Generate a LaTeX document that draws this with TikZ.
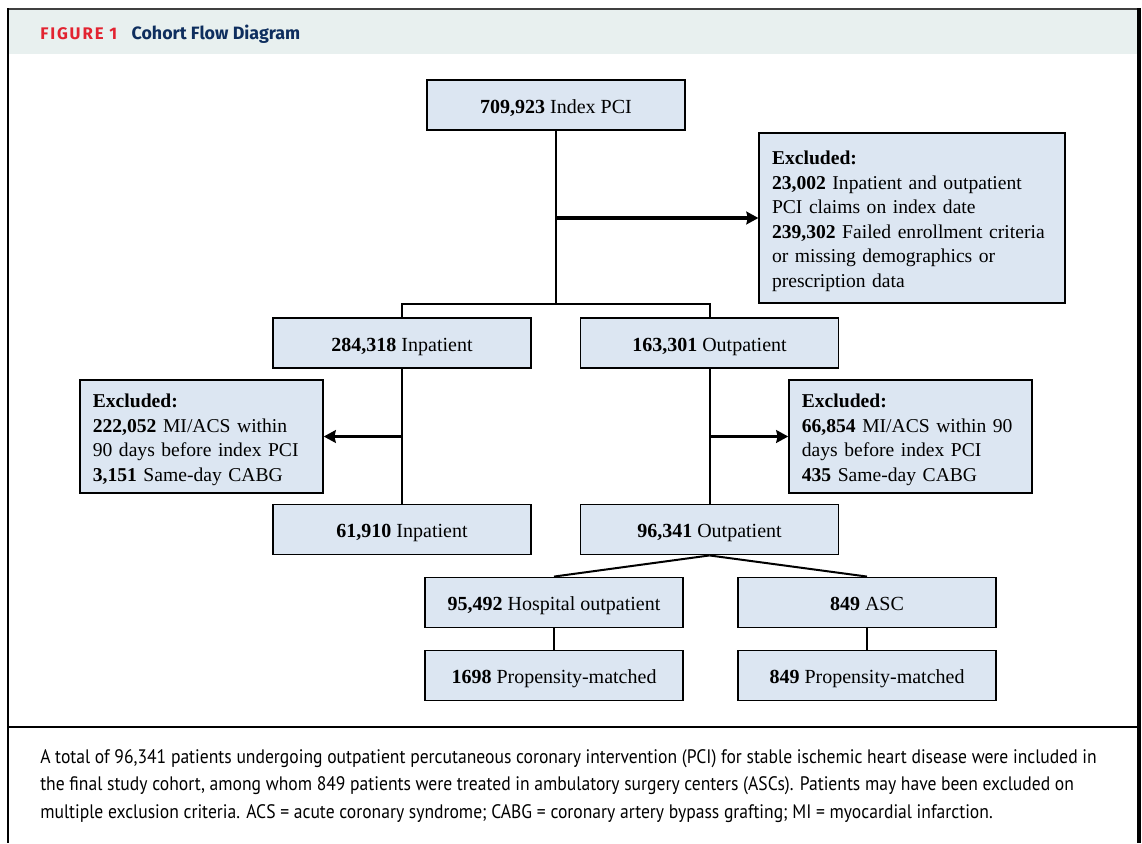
\documentclass[tikz,border=0pt]{standalone}
\usepackage{fontspec}
\setmainfont{Liberation Serif}
\newfontfamily\capfont{PT Sans}[FakeStretch=0.9]
\newfontfamily\headfont{Fira Sans}
\usetikzlibrary{arrows.meta}
\definecolor{boxfill}{RGB}{220,230,242}
\definecolor{headfill}{RGB}{232,240,239}
\definecolor{figred}{RGB}{226,35,48}
\definecolor{fignavy}{RGB}{14,46,94}
\newcommand\exclhead{\rule{0pt}{15pt}\textbf{Excluded:}}
\tikzset{
  flowbox/.style={draw,fill=boxfill,line width=1.4pt,minimum width=193.5pt,minimum height=37.5pt,inner sep=0pt,
    text height=13pt,text depth=0.6pt,font=\fontsize{15}{18.45}\selectfont},
  exclbox/.style={draw,fill=boxfill,line width=1.4pt,align=left,inner xsep=9.5pt,inner ysep=0pt,font=\fontsize{14.7}{18.45}\selectfont},
  link/.style={line width=1.5pt},
  exclarrow/.style={line width=2.8pt,-{Stealth[length=9pt,width=9.5pt,inset=1pt]}},
}
\begin{document}
\begin{tikzpicture}[x=0.75pt,y=-0.75pt]
  \useasboundingbox (0,0) rectangle (1142,843);
  % frame and header band
  \fill[headfill] (9,10) rectangle (1138,54);
  \draw[line width=1.5pt,black!75] (8,9) -- (1140,9);
  \draw[line width=2pt] (8,8) -- (8,843);
  \draw[line width=2.4pt] (1139,8) -- (1139,843);
  \draw[line width=1.8pt] (8,727) -- (1139,727);
  \node[anchor=west,inner sep=0pt] (figlabel) at (40,34)
    {\headfont\fontsize{12.6}{14}\selectfont\addfontfeature{LetterSpace=11}\color{figred}\textbf{FIGURE 1}};
  \node[anchor=base west,inner sep=0pt] (figtitle) at ([xshift=9pt]figlabel.base east)
    {\headfont\bfseries\fontsize{13.4}{15}\selectfont\color{fignavy}Cohort Flow Diagram};
  % flow boxes
  \node[flowbox] (pci) at (556,105) {\textbf{709,923} Index PCI};
  \node[exclbox,text width=210pt,minimum height=127.5pt] (excltop) at (912,218)
    {\exclhead\\
     \textbf{23,002} Inpatient and outpatient\\
     PCI claims on index date\\
     \textbf{239,302} Failed enrollment criteria\\
     or missing demographics or\\
     prescription data};
  \node[flowbox] (inp) at (402,343) {\textbf{284,318} Inpatient};
  \node[flowbox] (outp) at (709.5,343) {\textbf{163,301} Outpatient};
  \node[exclbox,text width=163pt,minimum height=85pt] (exclinp) at (201.5,436.5)
    {\exclhead\\
     \textbf{222,052} MI/ACS within\\
     90 days before index PCI\\
     \textbf{3,151} Same-day CABG};
  \node[exclbox,text width=163pt,minimum height=85pt] (excloutp) at (910.5,436.5)
    {\exclhead\\
     \textbf{66,854} MI/ACS within 90\\
     days before index PCI\\
     \textbf{435} Same-day CABG};
  \node[flowbox] (inpfinal) at (402,529.5) {\textbf{61,910} Inpatient};
  \node[flowbox] (outpfinal) at (709.5,529.5) {\textbf{96,341} Outpatient};
  \node[flowbox] (hosp) at (554,602.5) {\textbf{95,492} Hospital outpatient};
  \node[flowbox] (asc) at (867,602.5) {\textbf{849} ASC};
  \node[flowbox] (hospmatch) at (554,675.5) {\textbf{1698} Propensity-matched};
  \node[flowbox] (ascmatch) at (867,675.5) {\textbf{849} Propensity-matched};
  % connectors
  \coordinate (split) at (556,304);
  \draw[link] (pci) -- (split);
  \draw[link] (inp.north) |- (split) -| (outp.north);
  \draw[exclarrow] (pci |- excltop.west) -- (excltop.west);
  \draw[link] (inp) -- (inpfinal);
  \draw[link] (outp) -- (outpfinal);
  \draw[exclarrow] (inp |- exclinp.east) -- (exclinp.east);
  \draw[exclarrow] (outp |- excloutp.west) -- (excloutp.west);
  \draw[link] (outpfinal.south) -- (hosp.north);
  \draw[link] (outpfinal.south) -- (asc.north);
  \draw[link] (hosp) -- (hospmatch);
  \draw[link] (asc) -- (ascmatch);
  % caption
  \node[anchor=west,align=left,inner sep=0pt,font=\capfont\fontsize{14.65}{20.6}\selectfont] (caption) at (40,786)
    {A total of 96,341 patients undergoing outpatient percutaneous coronary intervention (PCI) for stable ischemic heart disease were included in\\
     the final study cohort, among whom 849 patients were treated in ambulatory surgery centers (ASCs). Patients may have been excluded on\\
     multiple exclusion criteria. ACS = acute coronary syndrome; CABG = coronary artery bypass grafting; MI = myocardial infarction.};
\end{tikzpicture}
\end{document}
